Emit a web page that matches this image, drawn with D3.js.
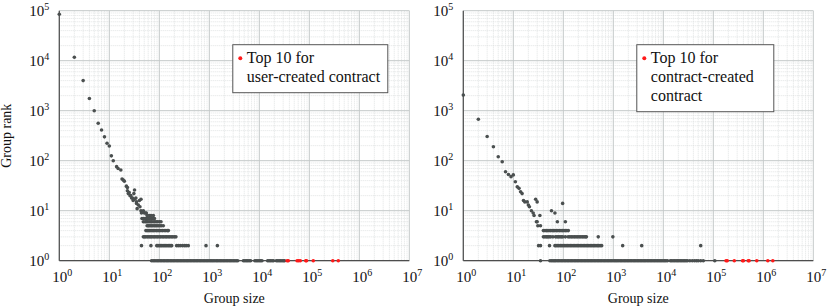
<!DOCTYPE html>
<html>
<head>
<meta charset="utf-8">
<script src="https://d3js.org/d3.v7.min.js"></script>
<style>
body { margin: 0; background: #fff; }
svg text { font-family: "Liberation Serif", "Times New Roman", Times, "DejaVu Serif", serif !important; fill: #111; }
</style>
</head>
<body>
<svg id="chart" width="830" height="307" font-family="Liberation Serif, serif"></svg>
<script>
// ---- data: [group size, group rank] ----
var xTicks = [1, 10, 100, 1e3, 1e4, 1e5, 1e6, 1e7];
var yTicks = [1, 10, 100, 1e3, 1e4, 1e5];

var userTail = [[1,85000],[2,11700],[3,4000],[4,1750],[5,1000],[6,560],[7,410],[8,300],[9,223],[10,197],
  [11,125],[12,100],[14,76],[15,70],[17,65],[18,43],[19,41],[20,39],[22,31],[23,29],[23,25],[24,22],
  [25,23],[26,20],[27,20],[28,18],[29,18],[30,16],[31,22],[32,26],[32,17],[34,18],[35,14],[35,15],
  [36,11],[38,13],[40,16],[41,12],[43,17],[43,10],[44,9],[48,10],[50,9],[53,9],[55,9],[57,8],[63,8],
  [68,8],[76,8],[70,7]];
var userRows = [
  [45,7],[48,7],[52,7],[56,7],[60,7],[64,7],[74,7],[80,7],
  [48,6],[52,6],[55,6],[58,6],[62,6],[66,6],[70,6],[75,6],[80,6],[86,6],[92,6],[100,6],[108,6],
  [57,5],[60,5],[63,5],[67,5],[71,5],[75,5],[80,5],[85,5],[90,5],[96,5],[103,5],[110,5],[120,5],
  [54,4],[57,4],[60,4],[64,4],[68,4],[72,4],[77,4],[82,4],[88,4],[94,4],[100,4],[108,4],[116,4],[125,4],[135,4],[145,4],[152,4],
  [48,3],[51,3],[54,3],[58,3],[62,3],[66,3],[70,3],[75,3],[80,3],[86,3],[92,3],[99,3],[106,3],[114,3],[122,3],[131,3],[140,3],[150,3],[161,3],[173,3],[186,3],[200,3],[215,3],
  [44,2],[68,2],[89,2],[94,2],[100,2],[106,2],[112,2],[119,2],[126,2],[134,2],[142,2],[151,2],[160,2],[170,2],[177,2],[222,2],[240,2],[262,2],[290,2],[320,2],[345,2],[380,2],[860,2],[1450,2]];
var userBottom = [70,75,80,86,92,98,105,112,120,128,137,146,156,167,178,190,203,217,232,248,265,283,302,323,345,368,393,
  420,449,480,512,547,584,624,667,712,760,812,867,926,989,1060,1130,1200,1290,1380,1470,1570,1680,1790,1910,2040,2180,
  2330,2490,2660,2840,3030,3240,3460,3700,4810,5140,5490,5860,6260,6690,8150,8700,9300,9930,10600,11300,14700,15700,
  16800,18000,19200,21900,23400,25000,26700,28500,30400,32000];
var userTop10 = [36000,38000,57000,61000,66000,85000,88000,120000,295000,380000];

var contractTail = [[1,2050],[2,673],[3,305],[4,190],[5,120],[6,95],[7,60],[8,53],[9,48],[10,52],[11,38],
  [12,30],[13,28],[14,24],[15,22],[16,16],[17,15],[19,15],[20,13],[21,12],[23,10],[25,9],[26,8],[28,17],
  [30,15],[29,6],[30,6],[34,8],[58,10],[68,9],[97,14],[76,6],[110,6]];
var contractRows = [
  [31,5],[35,5],
  [40,4],[43,4],[46,4],[49,4],[52,4],[56,4],[60,4],[64,4],[68,4],[73,4],[78,4],[84,4],[90,4],[96,4],[103,4],[110,4],[118,4],[126,4],
  [40,3],[43,3],[46,3],[49,3],[52,3],[56,3],[62,3],[70,3],[75,3],[80,3],[86,3],[92,3],[98,3],[110,3],[125,3],[135,3],[145,3],
  [156,3],[168,3],[180,3],[194,3],[208,3],[224,3],[240,3],[258,3],[275,3],[290,3],[500,3],[980,3],
  [32,2],[35,2],[53,2],[68,2],[72,2],[77,2],[82,2],[88,2],[94,2],[100,2],[107,2],[114,2],[122,2],[130,2],[139,2],[148,2],
  [158,2],[169,2],[180,2],[192,2],[205,2],[219,2],[234,2],[250,2],[267,2],[285,2],[304,2],[325,2],[347,2],[370,2],[395,2],
  [420,2],[450,2],[480,2],[510,2],[545,2],[585,2],[1540,2],[3700,2],[56000,2]];
var contractBottom = [35,54,58,62,66,70,75,80,86,92,98,105,112,120,128,137,146,156,167,178,190,203,217,232,248,265,283,302,
  323,345,368,393,420,449,480,512,547,584,624,667,712,760,812,867,926,989,1060,1130,1200,1290,1380,1470,1570,1680,1790,
  1910,2040,2180,2330,2490,2660,2840,3030,3240,3460,3700,3950,4220,4500,4810,5140,5490,5860,6260,6690,7140,7630,8150,
  8700,9300,9930,10600,11300,12100,13800,14700,15700,16800,18000,19200,20500,21900,23400,25000,26700,28500,30400,
  34000,38000,42000,46000,50000,56000,63000,107000];
var contractTop10 = [180000,190000,263000,385000,400000,500000,520000,740000,1230000,1550000];

var FONT = "Liberation Serif, Times New Roman, serif";
var svg = d3.select("#chart");
var plotW = 350, plotH = 250;
var x = d3.scaleLog().domain([1, 1e7]).range([0, plotW]);
var y = d3.scaleLog().domain([1, 1e5]).range([plotH, 0]);

function powLabels(sel) {
  sel.attr("font-family", FONT);
  sel.selectAll(".tick text").each(function(d) {
    var t = d3.select(this);
    t.text(null).attr("font-size", 15).attr("font-family", FONT);
    t.append("tspan").text("10");
    t.append("tspan").attr("dy", -6).attr("font-size", 10).text(Math.round(Math.log10(d)));
  });
}

function drawPanel(left, top, pts, bottom, reds, legendLines, legendW, showYLabel) {
  var g = svg.append("g").attr("transform", "translate(" + left + "," + top + ")");

  // minor grid
  var minors = [];
  for (var e = 0; e < 7; e++) for (var m = 2; m < 10; m++) minors.push(m * Math.pow(10, e));
  var yMinors = minors.filter(function(v) { return v < 1e5; });
  g.selectAll(".mx").data(minors).enter().append("line")
    .attr("x1", x).attr("x2", x).attr("y1", 0).attr("y2", plotH)
    .attr("stroke", "#d9dddd").attr("stroke-width", 0.8).attr("stroke-dasharray", "1,1");
  g.selectAll(".my").data(yMinors).enter().append("line")
    .attr("x1", 0).attr("x2", plotW).attr("y1", y).attr("y2", y)
    .attr("stroke", "#d9dddd").attr("stroke-width", 0.8).attr("stroke-dasharray", "1,1");
  // major grid
  g.selectAll(".gx").data(xTicks).enter().append("line")
    .attr("x1", x).attr("x2", x).attr("y1", 0).attr("y2", plotH)
    .attr("stroke", "#c3c8c8").attr("stroke-width", 1);
  g.selectAll(".gy").data(yTicks).enter().append("line")
    .attr("x1", 0).attr("x2", plotW).attr("y1", y).attr("y2", y)
    .attr("stroke", "#c3c8c8").attr("stroke-width", 1);

  // axes (labels only, lines drawn below)
  var xa = g.append("g").attr("transform", "translate(0," + plotH + ")")
    .call(d3.axisBottom(x).tickValues(xTicks).tickSize(0));
  xa.select(".domain").remove();
  powLabels(xa);
  xa.selectAll(".tick text").attr("text-anchor", "start").attr("x", -7.5).attr("y", 21).attr("dy", null);

  var ya = g.append("g").call(d3.axisLeft(y).tickValues(yTicks).tickSize(0).tickPadding(10));
  ya.select(".domain").remove();
  powLabels(ya);
  ya.selectAll(".tick text").attr("dy", "0.32em");

  g.append("line").attr("x1", 0).attr("x2", 0).attr("y1", 0).attr("y2", plotH).attr("stroke", "#4d4d4d").attr("stroke-width", 1.2);
  g.append("line").attr("x1", 0).attr("x2", plotW).attr("y1", plotH).attr("y2", plotH).attr("stroke", "#4d4d4d").attr("stroke-width", 1.2);

  // points
  var all = pts.concat(bottom.map(function(s) { return [s, 1]; }));
  g.selectAll(".pt").data(all).enter().append("circle")
    .attr("cx", function(d) { return x(d[0]); })
    .attr("cy", function(d) { return y(d[1]); })
    .attr("r", 1.8).style("fill", "#4a4f4f");
  g.selectAll(".top").data(reds).enter().append("circle")
    .attr("cx", function(d) { return x(d); })
    .attr("cy", y(1))
    .attr("r", 1.8).style("fill", "#ff1a1a");

  // legend
  var lg = g.append("g").attr("transform", "translate(" + x(2950) + ",34)");
  lg.append("rect").attr("x", 0).attr("y", 0).attr("width", legendW).attr("height", 10 + legendLines.length * 19)
    .attr("fill", "#fff").attr("stroke", "#555").attr("stroke-width", 1);
  lg.append("circle").attr("cx", 7.5).attr("cy", 13.5).attr("r", 2).style("fill", "#ff1a1a");
  legendLines.forEach(function(s, i) {
    lg.append("text").attr("x", 14).attr("y", 18 + i * 19).attr("font-size", 16).attr("font-family", FONT).text(s);
  });

  g.append("text").attr("x", plotW / 2).attr("y", plotH + 42.5).attr("text-anchor", "middle")
    .attr("font-size", 14).attr("font-family", FONT).text("Group size");
  if (showYLabel) {
    g.append("text").attr("transform", "translate(" + (-48.5) + "," + (plotH / 2) + ") rotate(-90)")
      .attr("text-anchor", "middle").attr("font-size", 14).attr("font-family", FONT).text("Group rank");
  }
}

drawPanel(59.3, 10.7, userTail.concat(userRows), userBottom, userTop10,
  ["Top 10 for", "user-created contract"], 155, true);
drawPanel(463.3, 10.7, contractTail.concat(contractRows), contractBottom, contractTop10,
  ["Top 10 for", "contract-created", "contract"], 137, false);
</script>
</body>
</html>
